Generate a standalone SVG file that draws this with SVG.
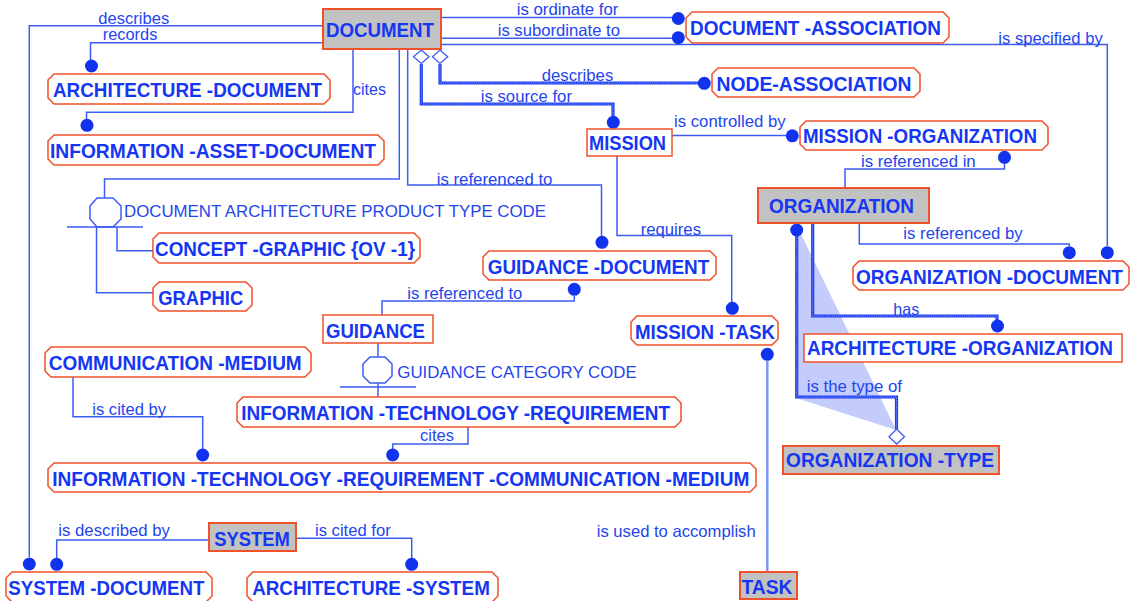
<svg xmlns="http://www.w3.org/2000/svg" width="1130" height="601" viewBox="0 0 1130 601">
<style>
.n{font-family:"Liberation Sans",Arial,sans-serif;font-weight:bold;font-size:19.5px;fill:#1536f2;text-anchor:middle}
.l{font-family:"Liberation Sans",Arial,sans-serif;font-size:16.5px;fill:#2445ee}
.c{fill:none;stroke:#3d5cf2;stroke-width:1.5}
.t{fill:none;stroke:#1f3ff0;stroke-width:3.2}
.to{fill:none;stroke:#8fa2fa;stroke-width:1;stroke-dasharray:1 1.2}
.e{fill:#fff;stroke:#f0502a;stroke-width:1.5}
.g{fill:#c2c2c2;stroke:#f0502a;stroke-width:2}
.d{fill:#1133ee}
.dm{fill:#fff;stroke:#3d5cf2;stroke-width:1.3}
</style>
<rect width="1130" height="601" fill="#fff"/>
<g id="connectors">
<polygon points="796,232 800,232 896,430 796,398" fill="#c4ccfb"/>
<path class="c" d="M323,25.7 H29.3 V557"/>
<path class="c" d="M323,42.7 H90.5 V60"/>
<path class="c" d="M353,49 V112.3 H86.5 V119"/>
<path class="c" d="M441,17.5 H672"/>
<path class="c" d="M441,38.3 H672"/>
<path class="c" d="M441,44.5 H1107.3 V246"/>
<path class="t" d="M440,64 V83 H698"/>
<path class="to" d="M440,64 V83 H698"/>
<path class="t" d="M421.3,64 V104 H613 V116"/>
<path class="to" d="M421.3,64 V104 H613 V116"/>
<path class="c" d="M672,135.5 H786"/>
<path class="c" d="M845,188 V169 H1004.5 V151"/>
<path class="c" d="M407.7,49 V185 H601.5 V236"/>
<path class="c" d="M399.3,49 V179 H104.5 V198"/>
<path class="c" d="M617,156 V235.5 H731.7 V302"/>
<path class="c" d="M859.3,223 V244 H1069.3 V246"/>
<path class="c" d="M574.3,296 V301 H382 V315"/>
<path class="t" d="M812.7,223 V316 H997 V320"/>
<path class="to" d="M812.7,223 V316 H997 V320"/>
<path class="t" d="M796.7,236 V397 H896.5 V429"/>
<path class="to" d="M796.7,236 V397 H896.5 V429"/>
<path class="c" d="M73,377 V416.7 H202.7 V449"/>
<path class="c" d="M468,427 V444 H392.7 V449"/>
<path class="c" d="M209,540 H56.7 V558"/>
<path class="c" d="M296,538.3 H411.7 V558"/>
<path d="M767.3,361 V572" fill="none" stroke="#7f95f7" stroke-width="2.5"/>
<polygon class="dm" points="421.3,50 429,56.7 421.3,63.5 413.5,56.7"/>
<polygon class="dm" points="440,50 447.7,56.7 440,63.5 432.5,56.7"/>
<polygon class="dm" points="896.7,429 904.5,436.7 896.7,444 889,436.7"/>
<polygon class="c" points="97,198 113,198 121,206 121,219 113,227 97,227 90,219 90,206"/>
<path class="c" d="M67,227 H143 M117,227 V250.7 H153 M96.5,227 V292.7 H153"/>
<polygon class="c" points="370,357 385,357 392,364 392,376 385,383 370,383 363,376 363,364"/>
<path class="c" d="M378,343 V357 M340,387 H416 M378,383 V397"/>
<g class="d">
<circle cx="29.3" cy="564" r="6.5"/>
<circle cx="91.5" cy="66" r="6.5"/>
<circle cx="87" cy="125.3" r="6.5"/>
<circle cx="678.3" cy="18.5" r="6.5"/>
<circle cx="678.3" cy="37.7" r="6.5"/>
<circle cx="704.3" cy="83.3" r="6.5"/>
<circle cx="613.3" cy="122.3" r="6.5"/>
<circle cx="792.3" cy="135.8" r="6.5"/>
<circle cx="1004.5" cy="157.3" r="6.5"/>
<circle cx="602" cy="242.3" r="6.5"/>
<circle cx="574.3" cy="289.3" r="6.5"/>
<circle cx="732.3" cy="308.3" r="6.5"/>
<circle cx="1069.3" cy="252.7" r="6.5"/>
<circle cx="1107.3" cy="252.7" r="6.5"/>
<circle cx="767.3" cy="354.3" r="6.5"/>
<circle cx="796.7" cy="230" r="6.5"/>
<circle cx="997.5" cy="326" r="6.5"/>
<circle cx="202.7" cy="455" r="6.5"/>
<circle cx="392.7" cy="455" r="6.5"/>
<circle cx="56.7" cy="564.3" r="6.5"/>
<circle cx="411.7" cy="564.3" r="6.5"/>
</g>
<text class="l" x="98.3" y="24" textLength="71" lengthAdjust="spacingAndGlyphs">describes</text>
<text class="l" x="102.7" y="40" textLength="54.7" lengthAdjust="spacingAndGlyphs">records</text>
<text class="l" x="353" y="95" textLength="33" lengthAdjust="spacingAndGlyphs">cites</text>
<text class="l" x="516.7" y="15" textLength="101.7" lengthAdjust="spacingAndGlyphs">is ordinate for</text>
<text class="l" x="497.7" y="35.7" textLength="122.3" lengthAdjust="spacingAndGlyphs">is subordinate to</text>
<text class="l" x="998.3" y="44.3" textLength="104.4" lengthAdjust="spacingAndGlyphs">is specified by</text>
<text class="l" x="541.7" y="80.7" textLength="71.6" lengthAdjust="spacingAndGlyphs">describes</text>
<text class="l" x="480.7" y="101.7" textLength="91.3" lengthAdjust="spacingAndGlyphs">is source for</text>
<text class="l" x="674" y="126.7" textLength="111.7" lengthAdjust="spacingAndGlyphs">is controlled by</text>
<text class="l" x="861" y="166.7" textLength="114.7" lengthAdjust="spacingAndGlyphs">is referenced in</text>
<text class="l" x="436.7" y="185" textLength="115.7" lengthAdjust="spacingAndGlyphs">is referenced to</text>
<text class="l" x="124" y="216.7" textLength="422" lengthAdjust="spacingAndGlyphs">DOCUMENT ARCHITECTURE PRODUCT TYPE CODE</text>
<text class="l" x="640.7" y="235" textLength="60.3" lengthAdjust="spacingAndGlyphs">requires</text>
<text class="l" x="903.3" y="239.3" textLength="119.4" lengthAdjust="spacingAndGlyphs">is referenced by</text>
<text class="l" x="407.3" y="298.7" textLength="115" lengthAdjust="spacingAndGlyphs">is referenced to</text>
<text class="l" x="893.3" y="315" textLength="26" lengthAdjust="spacingAndGlyphs">has</text>
<text class="l" x="397.3" y="378.3" textLength="239.4" lengthAdjust="spacingAndGlyphs">GUIDANCE CATEGORY CODE</text>
<text class="l" x="806.7" y="391.7" textLength="95.3" lengthAdjust="spacingAndGlyphs">is the type of</text>
<text class="l" x="92.3" y="415" textLength="73.7" lengthAdjust="spacingAndGlyphs">is cited by</text>
<text class="l" x="420" y="440.7" textLength="34" lengthAdjust="spacingAndGlyphs">cites</text>
<text class="l" x="58.3" y="535.7" textLength="111.7" lengthAdjust="spacingAndGlyphs">is described by</text>
<text class="l" x="315" y="535.7" textLength="75.7" lengthAdjust="spacingAndGlyphs">is cited for</text>
<text class="l" x="596.7" y="537.3" textLength="159" lengthAdjust="spacingAndGlyphs">is used to accomplish</text>
</g>
<g id="document"><rect class="g" x="323" y="9" width="118" height="40"/><text class="n" x="380" y="36.5" textLength="108" lengthAdjust="spacingAndGlyphs">DOCUMENT</text></g>
<g id="document-association"><polygon class="e" points="692,12 943,12 949,18 949,37 943,43 692,43 686,37 686,18"/><text class="n" x="815.5" y="34.5" textLength="251" lengthAdjust="spacingAndGlyphs">DOCUMENT -ASSOCIATION</text></g>
<g id="architecture-document"><polygon class="e" points="54,74 324,74 330,80 330,98 324,104 54,104 48,98 48,80"/><text class="n" x="187.5" y="97" textLength="269" lengthAdjust="spacingAndGlyphs">ARCHITECTURE -DOCUMENT</text></g>
<g id="information-asset-document"><polygon class="e" points="54,135 378,135 384,141 384,159 378,165 54,165 48,159 48,141"/><text class="n" x="213" y="158" textLength="326" lengthAdjust="spacingAndGlyphs">INFORMATION -ASSET-DOCUMENT</text></g>
<g id="node-association"><polygon class="e" points="718,68 914,68 920,74 920,91 914,97 718,97 712,91 712,74"/><text class="n" x="814" y="90.7" textLength="195" lengthAdjust="spacingAndGlyphs">NODE-ASSOCIATION</text></g>
<g id="mission"><rect class="e" x="587" y="129" width="85" height="27"/><text class="n" x="627.5" y="150" textLength="77" lengthAdjust="spacingAndGlyphs">MISSION</text></g>
<g id="mission-organization"><polygon class="e" points="806,121 1042,121 1048,127 1048,144 1042,150 806,150 800,144 800,127"/><text class="n" x="920" y="142.8" textLength="234" lengthAdjust="spacingAndGlyphs">MISSION -ORGANIZATION</text></g>
<g id="organization"><rect class="g" x="758" y="188" width="171" height="35"/><text class="n" x="841.5" y="213" textLength="145" lengthAdjust="spacingAndGlyphs">ORGANIZATION</text></g>
<g id="organization-document"><polygon class="e" points="859,261 1123,261 1129,267 1129,284 1123,290 859,290 853,284 853,267"/><text class="n" x="989.5" y="283.5" textLength="267" lengthAdjust="spacingAndGlyphs">ORGANIZATION  -DOCUMENT</text></g>
<g id="architecture-organization"><rect class="e" x="804" y="334" width="318" height="28"/><text class="n" x="960" y="354.8" textLength="306" lengthAdjust="spacingAndGlyphs">ARCHITECTURE -ORGANIZATION</text></g>
<g id="organization-type"><rect class="g" x="783" y="446" width="216" height="28"/><text class="n" x="890" y="467" textLength="208" lengthAdjust="spacingAndGlyphs">ORGANIZATION  -TYPE</text></g>
<g id="task"><rect class="g" x="740" y="572" width="57" height="27"/><text class="n" x="767" y="593.5" textLength="51" lengthAdjust="spacingAndGlyphs">TASK</text></g>
<g id="mission-task"><polygon class="e" points="637,316 772,316 778,322 778,339 772,345 637,345 631,339 631,322"/><text class="n" x="705" y="338.5" textLength="140" lengthAdjust="spacingAndGlyphs">MISSION -TASK</text></g>
<g id="guidance-document"><polygon class="e" points="489,251 710,251 716,257 716,274 710,280 489,280 483,274 483,257"/><text class="n" x="598.5" y="273.5" textLength="221.6" lengthAdjust="spacingAndGlyphs">GUIDANCE -DOCUMENT</text></g>
<g id="guidance"><rect class="e" x="323" y="315" width="110" height="28"/><text class="n" x="375.5" y="338" textLength="99" lengthAdjust="spacingAndGlyphs">GUIDANCE</text></g>
<g id="concept-graphic"><polygon class="e" points="159,233 414,233 420,239 420,257 414,263 159,263 153,257 153,239"/><text class="n" x="285" y="256" textLength="260" lengthAdjust="spacingAndGlyphs">CONCEPT -GRAPHIC {OV -1}</text></g>
<g id="graphic"><polygon class="e" points="159,282 246,282 252,288 252,305 246,311 159,311 153,305 153,288"/><text class="n" x="200.7" y="305" textLength="85" lengthAdjust="spacingAndGlyphs">GRAPHIC</text></g>
<g id="communication-medium"><polygon class="e" points="51,347 305,347 311,353 311,371 305,377 51,377 45,371 45,353"/><text class="n" x="175.2" y="370" textLength="253" lengthAdjust="spacingAndGlyphs">COMMUNICATION  -MEDIUM</text></g>
<g id="information-technology-requirement"><polygon class="e" points="243,397 675,397 681,403 681,421 675,427 243,427 237,421 237,403"/><text class="n" x="455.7" y="420" textLength="428.7" lengthAdjust="spacingAndGlyphs">INFORMATION -TECHNOLOGY -REQUIREMENT</text></g>
<g id="it-requirement-communication-medium"><polygon class="e" points="54,463 750,463 756,469 756,486 750,492 54,492 48,486 48,469"/><text class="n" x="400.8" y="485.7" textLength="697" lengthAdjust="spacingAndGlyphs">INFORMATION -TECHNOLOGY -REQUIREMENT -COMMUNICATION  -MEDIUM</text></g>
<g id="system"><rect class="g" x="209" y="523" width="87" height="28"/><text class="n" x="252" y="546" textLength="75.7" lengthAdjust="spacingAndGlyphs">SYSTEM</text></g>
<g id="system-document"><polygon class="e" points="12,572 206,572 212,578 212,596 206,602 12,602 6,596 6,578"/><text class="n" x="106.3" y="595" textLength="196" lengthAdjust="spacingAndGlyphs">SYSTEM -DOCUMENT</text></g>
<g id="architecture-system"><polygon class="e" points="253,572 492,572 498,578 498,596 492,602 253,602 247,596 247,578"/><text class="n" x="371" y="595" textLength="237.7" lengthAdjust="spacingAndGlyphs">ARCHITECTURE -SYSTEM</text></g>
</svg>
